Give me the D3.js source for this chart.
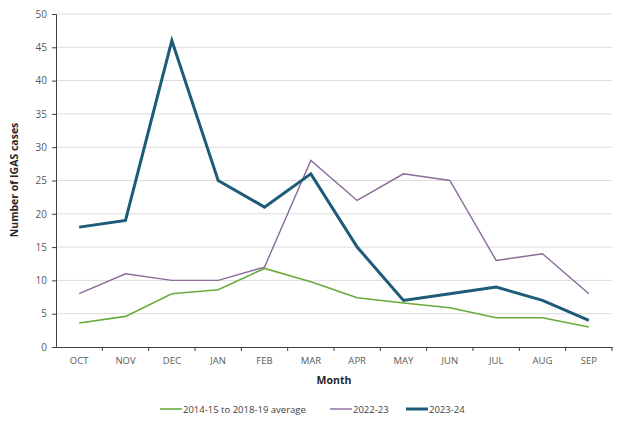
<!DOCTYPE html>
<html><head><meta charset="utf-8">
<script src="https://cdn.jsdelivr.net/npm/d3@7"></script>
<style>body{margin:0;background:#fff;} text{font-family:"Open Sans","Liberation Sans",sans-serif;}</style>
</head><body>
<svg id="c" width="621" height="428"></svg>
<script>
const months = ["OCT","NOV","DEC","JAN","FEB","MAR","APR","MAY","JUN","JUL","AUG","SEP"];
const avg = [3.6, 4.6, 8.0, 8.6, 11.8, 9.8, 7.4, 6.6, 5.9, 4.4, 4.4, 3.0];
const s2223 = [8, 11, 10, 10, 12, 28, 22, 26, 25, 13, 14, 8];
const s2324 = [18, 19, 46, 25, 21, 26, 15, 7, 8, 9, 7, 4];
const yTicks = [0,5,10,15,20,25,30,35,40,45,50];
const seriesNames = ["2014-15 to 2018-19 average","2022-23","2023-24"];

const svg = d3.select("#c");
const L = 56, R = 612, T = 14, B = 347;
const x = d3.scaleBand().domain(months).range([L, R]);
const y = d3.scaleLinear().domain([0, 50]).range([B, T]);

// gridlines
svg.append("g").selectAll("line").data(yTicks.filter(d => d > 0)).join("line")
  .attr("x1", L).attr("x2", R).attr("y1", d => y(d)).attr("y2", d => y(d))
  .attr("stroke", "#dcdcdc").attr("stroke-width", 1);

// y axis
const ya = svg.append("g").attr("transform", `translate(${L},0)`)
  .call(d3.axisLeft(y).tickValues(yTicks).tickSize(4).tickPadding(5));
ya.select(".domain").attr("stroke", "#404040");
ya.selectAll(".tick line").attr("stroke", "#404040");
ya.selectAll("text").attr("fill", "#595959").style("font-size", "10px");

// x axis
const xa = svg.append("g").attr("transform", `translate(0,${B})`)
  .call(d3.axisBottom(x).tickSize(0).tickPadding(10));
xa.select(".domain").attr("stroke", "#404040");
xa.selectAll("text").attr("fill", "#595959").style("font-size", "9.5px");
// band boundary ticks
svg.append("g").selectAll("line").data(months).join("line")
  .attr("x1", d => x(d) + x.bandwidth()).attr("x2", d => x(d) + x.bandwidth())
  .attr("y1", B).attr("y2", B + 4).attr("stroke", "#404040");

// titles
svg.append("text").attr("x", 334).attr("y", 384).attr("text-anchor", "middle")
  .style("font-size", "10.5px").style("font-weight", "bold").attr("fill", "#262626").text("Month");
svg.append("text").attr("transform", "translate(18,180) rotate(-90)").attr("text-anchor", "middle")
  .style("font-size", "10.5px").style("font-weight", "bold").attr("fill", "#262626").text("Number of IGAS cases");

const line = d3.line().x((d, i) => x(months[i]) + x.bandwidth() / 2).y(d => y(d));
const colors = ["#6aaa3a", "#8a6a9a", "#1d5b78"];
const widths = [1.6, 1.4, 3];
[avg, s2223, s2324].forEach((s, k) => {
  svg.append("path").datum(s).attr("d", line).attr("fill", "none")
    .attr("stroke", colors[k]).attr("stroke-width", widths[k]).attr("stroke-linejoin", "miter");
});

// legend
const lx = [160, 330, 406];
seriesNames.forEach((n, k) => {
  svg.append("line").attr("x1", lx[k]).attr("x2", lx[k] + 22).attr("y1", 409).attr("y2", 409)
    .attr("stroke", colors[k]).attr("stroke-width", widths[k]);
  svg.append("text").attr("x", lx[k] + 23).attr("y", 412.5).style("font-size", "9.5px")
    .attr("fill", "#404040").text(n);
});
</script>
</body></html>
